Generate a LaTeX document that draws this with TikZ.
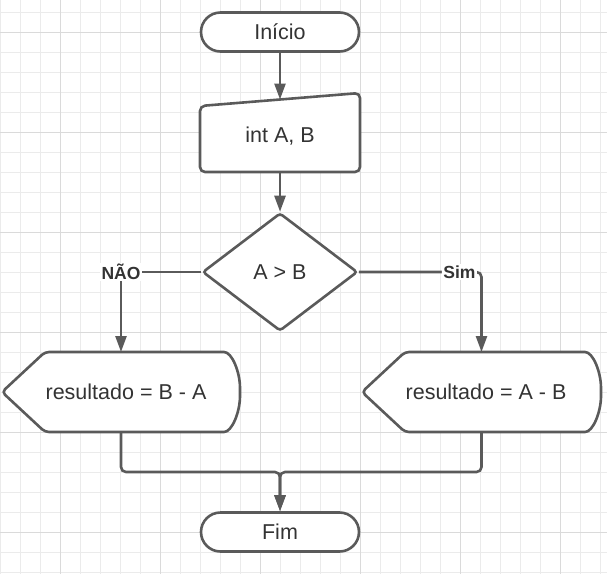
\documentclass[tikz,border=0pt]{standalone}
\usepackage{fontspec}
\setmainfont{Liberation Sans}
\usetikzlibrary{arrows.meta,shapes.geometric,calc}
\definecolor{gridminor}{HTML}{EBEBEB}
\definecolor{gridmajor}{HTML}{DADADA}
\definecolor{stroke}{HTML}{5A5A5A}
\definecolor{txt}{HTML}{333333}
\tikzset{
  shapeline/.style={draw=stroke, line width=2.6pt, fill=white},
  term/.style={shapeline, rectangle, rounded corners=19.5pt, minimum width=158pt, minimum height=39pt, inner sep=0pt, text=txt, font=\fontsize{21.5}{24}\selectfont},
  holder/.style={rectangle, draw=none, inner sep=0pt, outer sep=0pt, text=txt, font=\fontsize{21.5}{24}\selectfont},
  decision/.style={shapeline, diamond, rounded corners=3pt, minimum width=155pt, minimum height=118pt, inner sep=0pt, text=txt, font=\fontsize{21.5}{24}\selectfont},
  conn/.style={draw=stroke, line width=2.6pt, -{Triangle[length=16pt,width=11pt]}},
  lbl/.style={fill=white, inner sep=1.5pt, text=txt, font=\fontsize{17.5}{19}\selectfont\bfseries, anchor=center},
}
\begin{document}
\begin{tikzpicture}[x=1pt,y=-1pt]
\useasboundingbox (0,0) rectangle (607,574);
% grid
\foreach \gx in {0,20,...,600} \draw[gridminor, line width=1pt] (\gx,0) -- (\gx,574);
\foreach \gy in {12,32,...,572} \draw[gridminor, line width=1pt] (0,\gy) -- (607,\gy);
\foreach \gx in {60,160,...,560} \draw[gridmajor, line width=1pt] (\gx,0) -- (\gx,574);
\foreach \gy in {32,132,...,532} \draw[gridmajor, line width=1pt] (0,\gy) -- (607,\gy);

% start
\node[term] (start) at (280,32) {Início};

% manual input
\node[holder, minimum width=160pt, minimum height=72.5pt] (inp) at (280,135.75) {};
\draw[shapeline, rounded corners=5pt] (inp.south west) -- ++(0,-66) -- ++(160,-13) -- (inp.south east) -- cycle;
\node[holder] (inptext) at (inp.center) {int A, B};

% decision
\node[decision] (dia) at (280,272) {A > B};

% left display
\node[holder, minimum width=238pt, minimum height=80pt] (lshape) at (121,392) {};
\draw[shapeline, rounded corners=4pt] (lshape.west) -- ++(43,-40) -- ++(175,0)
  .. controls +(12,0) and +(0,-20) .. ++(20,40)
  .. controls +(0,20) and +(12,0) .. ++(-20,40)
  -- ++(-175,0) -- cycle;
\node[holder] (ltext) at ($(lshape.center)+(5,0)$) {resultado = B - A};

% right display
\node[holder, minimum width=239pt, minimum height=80pt] (rshape) at (481.5,392) {};
\draw[shapeline, rounded corners=4pt] (rshape.west) -- ++(43,-40) -- ++(176,0)
  .. controls +(12,0) and +(0,-20) .. ++(20,40)
  .. controls +(0,20) and +(12,0) .. ++(-20,40)
  -- ++(-176,0) -- cycle;
\node[holder] (rtext) at ($(rshape.center)+(4.5,0)$) {resultado = A - B};

% end
\node[term] (fim) at (280,532) {Fim};

% connectors
\draw[conn] (start.south) -- (inp.north);
\draw[conn] (inp.south) -- (dia.north);
\draw[conn] (dia.west) -| node[lbl] {NÃO} (lshape.north);
\draw[conn, rounded corners=5pt] (dia.east) -| node[lbl, pos=0.41] {Sim} (rshape.north);
\coordinate (merge) at (280,472);
\draw[conn, rounded corners=5pt] (lshape.south) |- (merge) -- (fim.north);
\draw[conn, rounded corners=5pt] (rshape.south) |- (merge) -- (fim.north);
\end{tikzpicture}
\end{document}
